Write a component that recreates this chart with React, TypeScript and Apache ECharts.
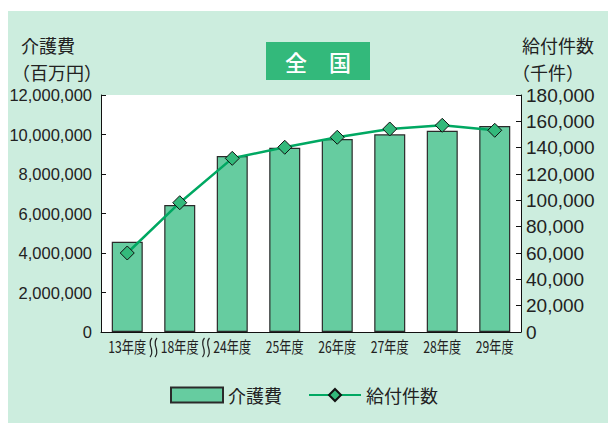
import React, { useEffect, useRef } from "react";
import * as echarts from "echarts";

const categories = ["13年度", "18年度", "24年度", "25年度", "26年度", "27年度", "28年度", "29年度"];
const careCost = [4570000, 6430000, 8910000, 9330000, 9770000, 10010000, 10190000, 10430000];
const benefitCount = [60000, 98200, 131900, 140300, 147900, 154200, 157000, 153200];
const breakAfter = [0, 1];
const leftMax = 12000000;
const leftInterval = 2000000;
const rightMax = 180000;
const rightInterval = 20000;

const fmt = (v: number) => v.toLocaleString("en-US");
const CJK = "'Noto Sans CJK JP', 'Liberation Sans', sans-serif";

export default function App() {
  const ref = useRef<HTMLDivElement>(null);
  useEffect(() => {
    document.body.style.margin = "0";
    if (!ref.current) return;
    const chart = echarts.init(ref.current, null, { renderer: "svg" });
    const base: any = {
      animation: false,
      grid: {
        left: 101,
        right: 87,
        top: 95,
        bottom: 93,
        show: true,
        backgroundColor: "#ffffff",
        borderWidth: 0,
      },
      legend: {
        left: "center",
        top: 381,
        itemWidth: 52,
        itemHeight: 15,
        itemGap: 26,
        textStyle: { fontSize: 18, color: "#222", fontFamily: CJK },
        data: [{ name: "介護費", icon: "rect" }, { name: "給付件数" }],
      },
      xAxis: {
        type: "category",
        data: categories,
        axisLine: { lineStyle: { color: "#111", width: 1 } },
        axisTick: { show: false },
        axisLabel: { show: false },
      },
      yAxis: [
        {
          type: "value",
          min: 0,
          max: leftMax,
          interval: leftInterval,
          splitLine: { show: false },
          axisLine: { show: true, lineStyle: { color: "#111", width: 1 } },
          axisTick: { show: true, inside: true, length: 5, lineStyle: { color: "#111" } },
          axisLabel: {
            formatter: (v: number) => fmt(v),
            fontSize: 16.5,
            color: "#222",
            margin: 9,
            fontFamily: "'Liberation Sans Narrow', 'Liberation Sans', sans-serif",
          },
        },
        {
          type: "value",
          min: 0,
          max: rightMax,
          interval: rightInterval,
          position: "right",
          splitLine: { show: false },
          axisLine: { show: true, lineStyle: { color: "#111", width: 1 } },
          axisTick: { show: true, inside: true, length: 5, lineStyle: { color: "#111" } },
          axisLabel: {
            formatter: (v: number) => fmt(v),
            fontSize: 19,
            color: "#222",
            margin: 5,
            fontFamily: "'Liberation Sans', sans-serif",
          },
        },
      ],
      series: [
        {
          name: "介護費",
          type: "bar",
          data: careCost,
          yAxisIndex: 0,
          barWidth: 31,
          itemStyle: { color: "#66CCA0", borderColor: "#2a2a2a", borderWidth: 1.2 },
        },
        {
          name: "給付件数",
          type: "line",
          data: benefitCount,
          yAxisIndex: 1,
          symbol: "diamond",
          symbolSize: 14,
          lineStyle: { color: "#00A862", width: 2.5 },
          itemStyle: { color: "#33B97B", borderColor: "#111", borderWidth: 1 },
        },
      ],
    };
    chart.setOption(base);

    const graphics: any[] = [
      {
        type: "rect",
        shape: { x: 266, y: 42, width: 104, height: 38 },
        style: { fill: "#33B97B" },
      },
      {
        type: "text",
        x: 318,
        y: 61,
        style: {
          text: "全　国",
          fontSize: 22,
          fill: "#ffffff",
          fontFamily: CJK,
          fontWeight: 500,
          textAlign: "center",
          textVerticalAlign: "middle",
        },
      },
      {
        type: "text",
        x: 21,
        y: 45,
        style: { text: "介護費", fontSize: 18, fill: "#222", fontFamily: CJK, textVerticalAlign: "middle" },
      },
      {
        type: "text",
        x: 12,
        y: 72,
        style: { text: "（百万円）", fontSize: 18, fill: "#222", fontFamily: CJK, textVerticalAlign: "middle" },
      },
      {
        type: "text",
        x: 522,
        y: 45,
        style: { text: "給付件数", fontSize: 18, fill: "#222", fontFamily: CJK, textVerticalAlign: "middle" },
      },
      {
        type: "text",
        x: 512,
        y: 72,
        style: { text: "（千件）", fontSize: 18, fill: "#222", fontFamily: CJK, textVerticalAlign: "middle" },
      },
    ];

    const centers = categories.map((c) => chart.convertToPixel({ xAxisIndex: 0 }, c) as number);
    categories.forEach((c, i) => {
      graphics.push({
        type: "text",
        x: centers[i],
        y: 346,
        scaleX: 0.76,
        style: {
          text: c,
          fontSize: 16,
          fill: "#222",
          fontFamily: CJK,
          textAlign: "center",
          textVerticalAlign: "middle",
        },
      });
    });
    breakAfter.forEach((i) => {
      const bx = (centers[i] + centers[i + 1]) / 2;
      [-2.5, 2.5].forEach((dx) => {
        const x = bx + dx;
        graphics.push({
          type: "bezierCurve",
          shape: { x1: x + 1, y1: 338, cpx1: x - 5, cpy1: 345, cpx2: x + 5, cpy2: 350, x2: x - 1, y2: 357 },
          style: { stroke: "#222", lineWidth: 1.2, fill: "none" },
        });
      });
    });
    chart.setOption({ graphic: graphics });

    return () => chart.dispose();
  }, []);

  return (
    <div style={{ position: "relative", width: 608, height: 425 }}>
      <div
        style={{ position: "absolute", left: 8, top: 11, width: 600, height: 412, background: "#CCEDDE" }}
      />
      <div ref={ref} style={{ position: "absolute", left: 0, top: 0, width: 608, height: 425 }} />
    </div>
  );
}
